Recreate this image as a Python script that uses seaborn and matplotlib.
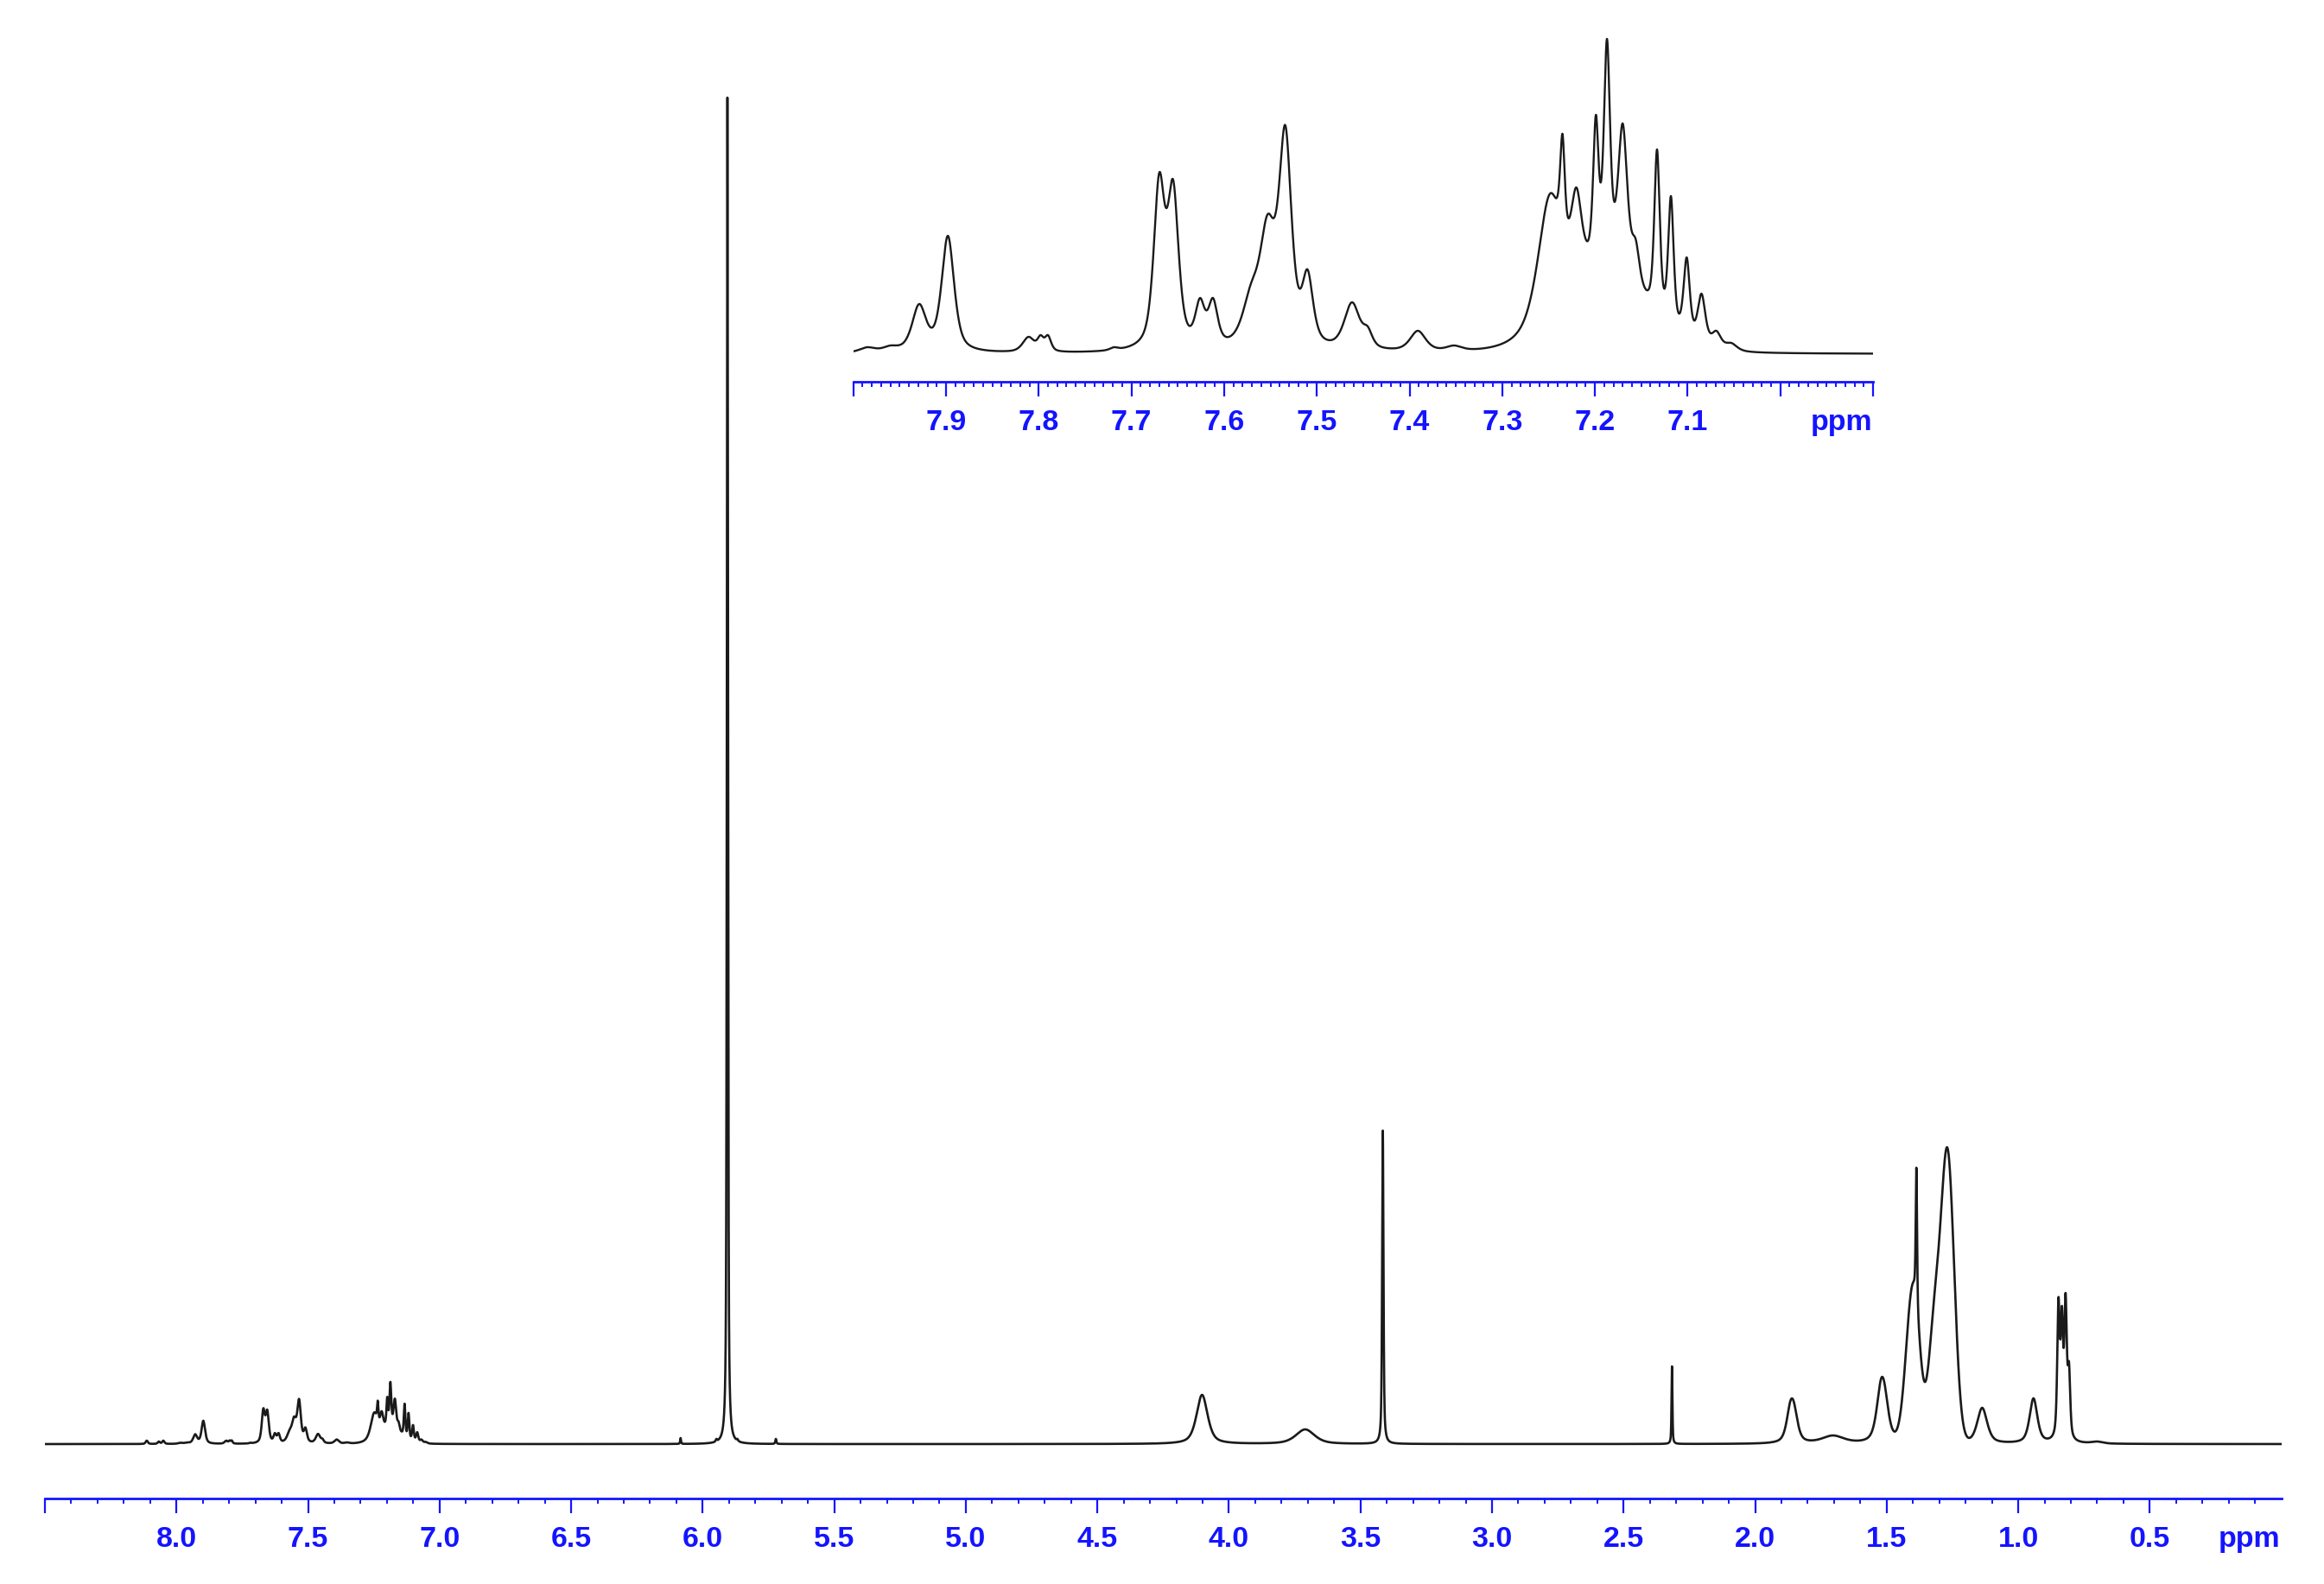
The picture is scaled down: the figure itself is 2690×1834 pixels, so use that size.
import numpy as np
import pandas as pd
import seaborn as sns
import matplotlib
matplotlib.use("Agg")
import matplotlib.pyplot as plt
from matplotlib.ticker import FixedLocator, FixedFormatter

# DATA: peak list
# aromatic lines, heights as read in the inset (inset pixels)
AROM_PPM = [7.985, 7.960, 7.929, 7.898, 7.811, 7.798, 7.790, 7.719, 7.670, 7.655,
            7.626, 7.612, 7.571, 7.553, 7.534, 7.510, 7.462, 7.445, 7.391, 7.352,
            7.249, 7.235, 7.220, 7.199, 7.187, 7.170, 7.156, 7.133, 7.118, 7.101,
            7.085, 7.069, 7.053]
AROM_INSET_HEIGHT = [8, 10, 58, 137, 20, 22, 22, 8, 210, 202,
                     65, 65, 82, 162, 265, 98, 60, 32, 27, 10,
                     185, 255, 193, 277, 365, 267, 133, 237, 183, 112,
                     70, 27, 13]
AROM_WIDTH = [0.020, 0.020, 0.018, 0.016, 0.015, 0.008, 0.008, 0.010, 0.014, 0.014,
              0.012, 0.012, 0.022, 0.020, 0.016, 0.014, 0.020, 0.012, 0.020, 0.020,
              0.030, 0.006, 0.014, 0.007, 0.008, 0.012, 0.010, 0.007, 0.007, 0.008,
              0.010, 0.012, 0.015]
INSET_GAIN = 5.07  # inset is ~5x the main vertical scale

# other lines, heights as read in the main spectrum
OTHER_PPM = [8.113, 8.067, 8.050, 6.084, 5.948, 5.906, 5.868, 5.722, 4.102, 3.710,
             3.415, 2.316, 1.866, 1.852, 1.704, 1.522, 1.508, 1.387, 1.137,
             0.942, 0.847, 0.834, 0.820, 0.807, 0.700]
OTHER_HEIGHT = [4, 3, 4, 7, 6, 1559, 6, 6, 57, 17,
                363, 90, 50, 48, 10, 75, 70, 320, 42,
                53, 170, 160, 175, 95, 3]
OTHER_WIDTH = [0.010, 0.010, 0.010, 0.004, 0.006, 0.005, 0.006, 0.005, 0.050, 0.085,
               0.006, 0.004, 0.035, 0.035, 0.100, 0.040, 0.040, 0.006, 0.045,
               0.035, 0.011, 0.011, 0.011, 0.011, 0.050]

# broad gaussian components (main units)
GAUSS_PPM = [7.19, 1.400, 1.320, 1.269]
GAUSS_HEIGHT = [16.8, 180, 120, 335]
GAUSS_WIDTH = [0.10, 0.06, 0.05, 0.06]

MAIN_TICKS = [8.5, 8.0, 7.5, 7.0, 6.5, 6.0, 5.5, 5.0, 4.5, 4.0, 3.5, 3.0, 2.5, 2.0, 1.5, 1.0, 0.5]
MAIN_LABELS = ["", "8.0", "7.5", "7.0", "6.5", "6.0", "5.5", "5.0", "4.5", "4.0",
               "3.5", "3.0", "2.5", "2.0", "1.5", "1.0", "0.5"]
INSET_TICKS = [8.0, 7.9, 7.8, 7.7, 7.6, 7.5, 7.4, 7.3, 7.2, 7.1, 7.0, 6.9]
INSET_LABELS = ["", "7.9", "7.8", "7.7", "7.6", "7.5", "7.4", "7.3", "7.2", "7.1", "", ""]

BLUE = "#1414ff"
INK = "#1a1a1a"
ETA = 0.6  # lorentzian fraction of the line shape
FONT_SIZE = 24.5


def line_shape(x, c, w):
    lor = 1.0 / (1.0 + ((x - c) / (w / 2.0)) ** 2)
    gau = np.exp(-4.0 * np.log(2.0) * ((x - c) / w) ** 2)
    return ETA * lor + (1.0 - ETA) * gau


def gauss(x, c, w):
    return np.exp(-4.0 * np.log(2.0) * ((x - c) / w) ** 2)


# STEP 1: build the line list and solve amplitudes so peak tops match
centers = np.array(AROM_PPM + OTHER_PPM)
heights = np.concatenate([np.array(AROM_INSET_HEIGHT) / INSET_GAIN, np.array(OTHER_HEIGHT, float)])
widths = np.array(AROM_WIDTH + OTHER_WIDTH)


def broad_at(x):
    total = np.zeros_like(x, dtype=float)
    for c, h, w in zip(GAUSS_PPM, GAUSS_HEIGHT, GAUSS_WIDTH):
        total += h * gauss(x, c, w)
    return total


A = line_shape(centers[:, None], centers[None, :], widths[None, :])
amps = np.linalg.solve(A, heights - broad_at(centers))
amps = np.clip(amps, 0, None)


def spectrum(x):
    y = broad_at(x)
    for c, a, w in zip(centers, amps, widths):
        y += a * line_shape(x, c, w)
    return y


grid_main = np.linspace(8.5, 0.0, 34001)
grid_inset = np.linspace(8.0, 6.9, 11001)
main_df = pd.DataFrame({"ppm": grid_main, "intensity": spectrum(grid_main)})
inset_df = pd.DataFrame({"ppm": grid_inset, "intensity": spectrum(grid_inset)})

# STEP 2: FIGURE
sns.set_theme(style="white")
plt.rcParams["font.family"] = ["Liberation Sans", "DejaVu Sans"]
plt.rcParams["font.weight"] = "bold"

W, H = 2690, 1834
fig = plt.figure(figsize=(W / 100, H / 100), dpi=100)
fig.patch.set_facecolor("white")

ax = fig.add_axes([52 / W, (H - 1735) / H, (2640.6 - 52) / W, 1635 / H])
ax_in = fig.add_axes([987.7 / W, (H - 442) / H, (2168 - 987.7) / W, 412 / H])

sns.lineplot(data=main_df, x="ppm", y="intensity", ax=ax, color=INK, linewidth=1.9,
             estimator=None, sort=False, errorbar=None)
sns.lineplot(data=inset_df, x="ppm", y="intensity", ax=ax_in, color=INK, linewidth=1.7,
             estimator=None, sort=False, errorbar=None)

ax.set_xlim(8.5, 0.0)
ax.set_ylim(-63, 1572)
ax_in.set_xlim(8.0, 6.9)
ax_in.set_ylim(-32 / INSET_GAIN, 380 / INSET_GAIN)

for a, ticks, labels, minor_step, lo, hi in [
    (ax, MAIN_TICKS, MAIN_LABELS, 0.1, 0.0, 8.5),
    (ax_in, INSET_TICKS, INSET_LABELS, 0.01, 6.9, 8.0),
]:
    a.set_facecolor("none")
    for side in ["left", "right", "top"]:
        a.spines[side].set_visible(False)
    a.spines["bottom"].set_color(BLUE)
    a.spines["bottom"].set_linewidth(2.0)
    a.set_yticks([])
    a.set_xlabel("")
    a.set_ylabel("")
    a.xaxis.set_major_locator(FixedLocator(ticks))
    a.xaxis.set_major_formatter(FixedFormatter(labels))
    minors = np.round(np.arange(lo + minor_step, hi, minor_step), 3)
    a.xaxis.set_minor_locator(FixedLocator(minors))
    a.tick_params(axis="x", which="major", direction="out", length=12, width=1.6,
                  color=BLUE, labelcolor=BLUE, labelsize=FONT_SIZE, pad=11, bottom=True)
    a.tick_params(axis="x", which="minor", direction="out", length=4, width=1.4,
                  color=BLUE, bottom=True)
    for lbl in a.get_xticklabels():
        lbl.set_fontweight("bold")

ax.text(0.12, -56 / 1635, "ppm", transform=ax.get_xaxis_transform(), ha="center",
        va="baseline", color=BLUE, fontsize=FONT_SIZE, fontweight="bold")
ax_in.text(6.934, -56 / 412, "ppm", transform=ax_in.get_xaxis_transform(), ha="center",
           va="baseline", color=BLUE, fontsize=FONT_SIZE, fontweight="bold")

fig.savefig("out.png", dpi=100)
plt.close(fig)
